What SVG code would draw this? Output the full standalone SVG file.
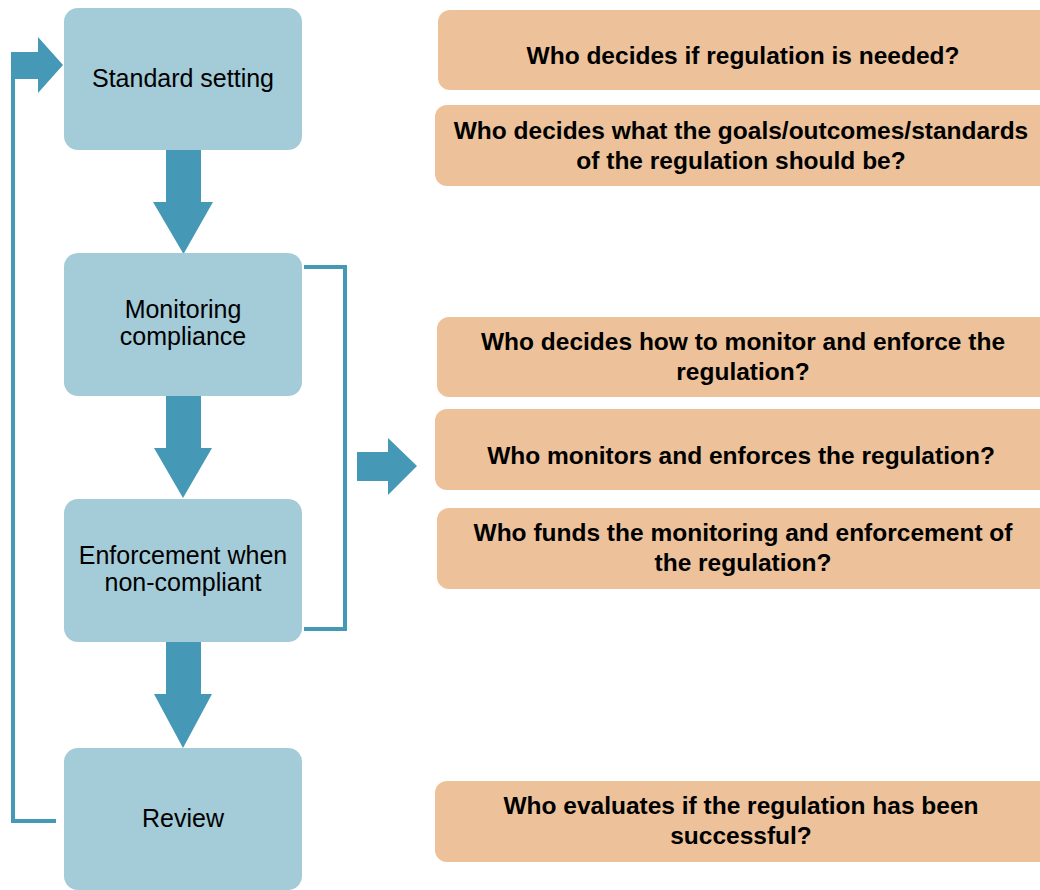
<svg xmlns="http://www.w3.org/2000/svg" width="1040" height="890" viewBox="0 0 1040 890">
<style>
.step{fill:#A3CBD8}
.q{fill:#EDC29A}
.arr{fill:#4699B6}
.ln{fill:none;stroke:#4699B6;stroke-width:4}
.t{font-family:"Liberation Sans",Arial,sans-serif;font-size:25px;fill:#000;text-anchor:middle}
.qt{font-family:"Liberation Sans",Arial,sans-serif;font-size:24.5px;font-weight:bold;fill:#000;text-anchor:middle}
</style>
<rect width="1040" height="890" fill="#fff"/>
<g id="connectors">
  <path class="arr" d="M166,150 H201 V202 H213 L183.5,254 L153,202 H166 Z"/>
  <path class="arr" d="M166,396 H201 V448 H212 L183,498 L154,448 H166 Z"/>
  <path class="arr" d="M166,642 H201 V694 H212 L183,748 L154,694 H166 Z"/>
  <path class="ln" d="M56,821 H13 V57"/>
  <path class="arr" d="M11,52 H38 V37 L63,65 L38,93 V79 H15 V57 H11 Z"/>
  <path class="ln" d="M304,267 H345 V629 H304"/>
  <path class="arr" d="M357,452 H388 V438 L417,466 L388,495 V481 H357 Z"/>
</g>
<g id="standard-setting">
  <rect class="step" x="64" y="8" width="238" height="142" rx="14"/>
  <text class="t" x="183" y="87">Standard setting</text>
</g>
<g id="monitoring-compliance">
  <rect class="step" x="64" y="253" width="238" height="143" rx="14"/>
  <text class="t" x="183" y="318">Monitoring</text>
  <text class="t" x="183" y="345">compliance</text>
</g>
<g id="enforcement">
  <rect class="step" x="64" y="499" width="238" height="143" rx="14"/>
  <text class="t" x="183" y="564">Enforcement when</text>
  <text class="t" x="183" y="591">non-compliant</text>
</g>
<g id="review">
  <rect class="step" x="64" y="748" width="238" height="142" rx="14"/>
  <text class="t" x="183" y="827">Review</text>
</g>
<g id="q-needed">
  <rect class="q" x="438" y="10" width="620" height="80" rx="12"/>
  <text class="qt" x="743" y="64">Who decides if regulation is needed?</text>
</g>
<g id="q-goals">
  <rect class="q" x="435" y="105" width="620" height="81" rx="12"/>
  <text class="qt" x="741" y="139">Who decides what the goals/outcomes/standards</text>
  <text class="qt" x="741" y="169">of the regulation should be?</text>
</g>
<g id="q-how">
  <rect class="q" x="437" y="317" width="620" height="80" rx="12"/>
  <text class="qt" x="743" y="350">Who decides how to monitor and enforce the</text>
  <text class="qt" x="743" y="380">regulation?</text>
</g>
<g id="q-who-monitors">
  <rect class="q" x="435" y="409" width="620" height="81" rx="12"/>
  <text class="qt" x="741" y="464">Who monitors and enforces the regulation?</text>
</g>
<g id="q-funds">
  <rect class="q" x="437" y="508" width="620" height="81" rx="12"/>
  <text class="qt" x="743" y="541">Who funds the monitoring and enforcement of</text>
  <text class="qt" x="743" y="571">the regulation?</text>
</g>
<g id="q-evaluates">
  <rect class="q" x="435" y="781" width="620" height="81" rx="12"/>
  <text class="qt" x="741" y="814">Who evaluates if the regulation has been</text>
  <text class="qt" x="741" y="844">successful?</text>
</g>
</svg>
